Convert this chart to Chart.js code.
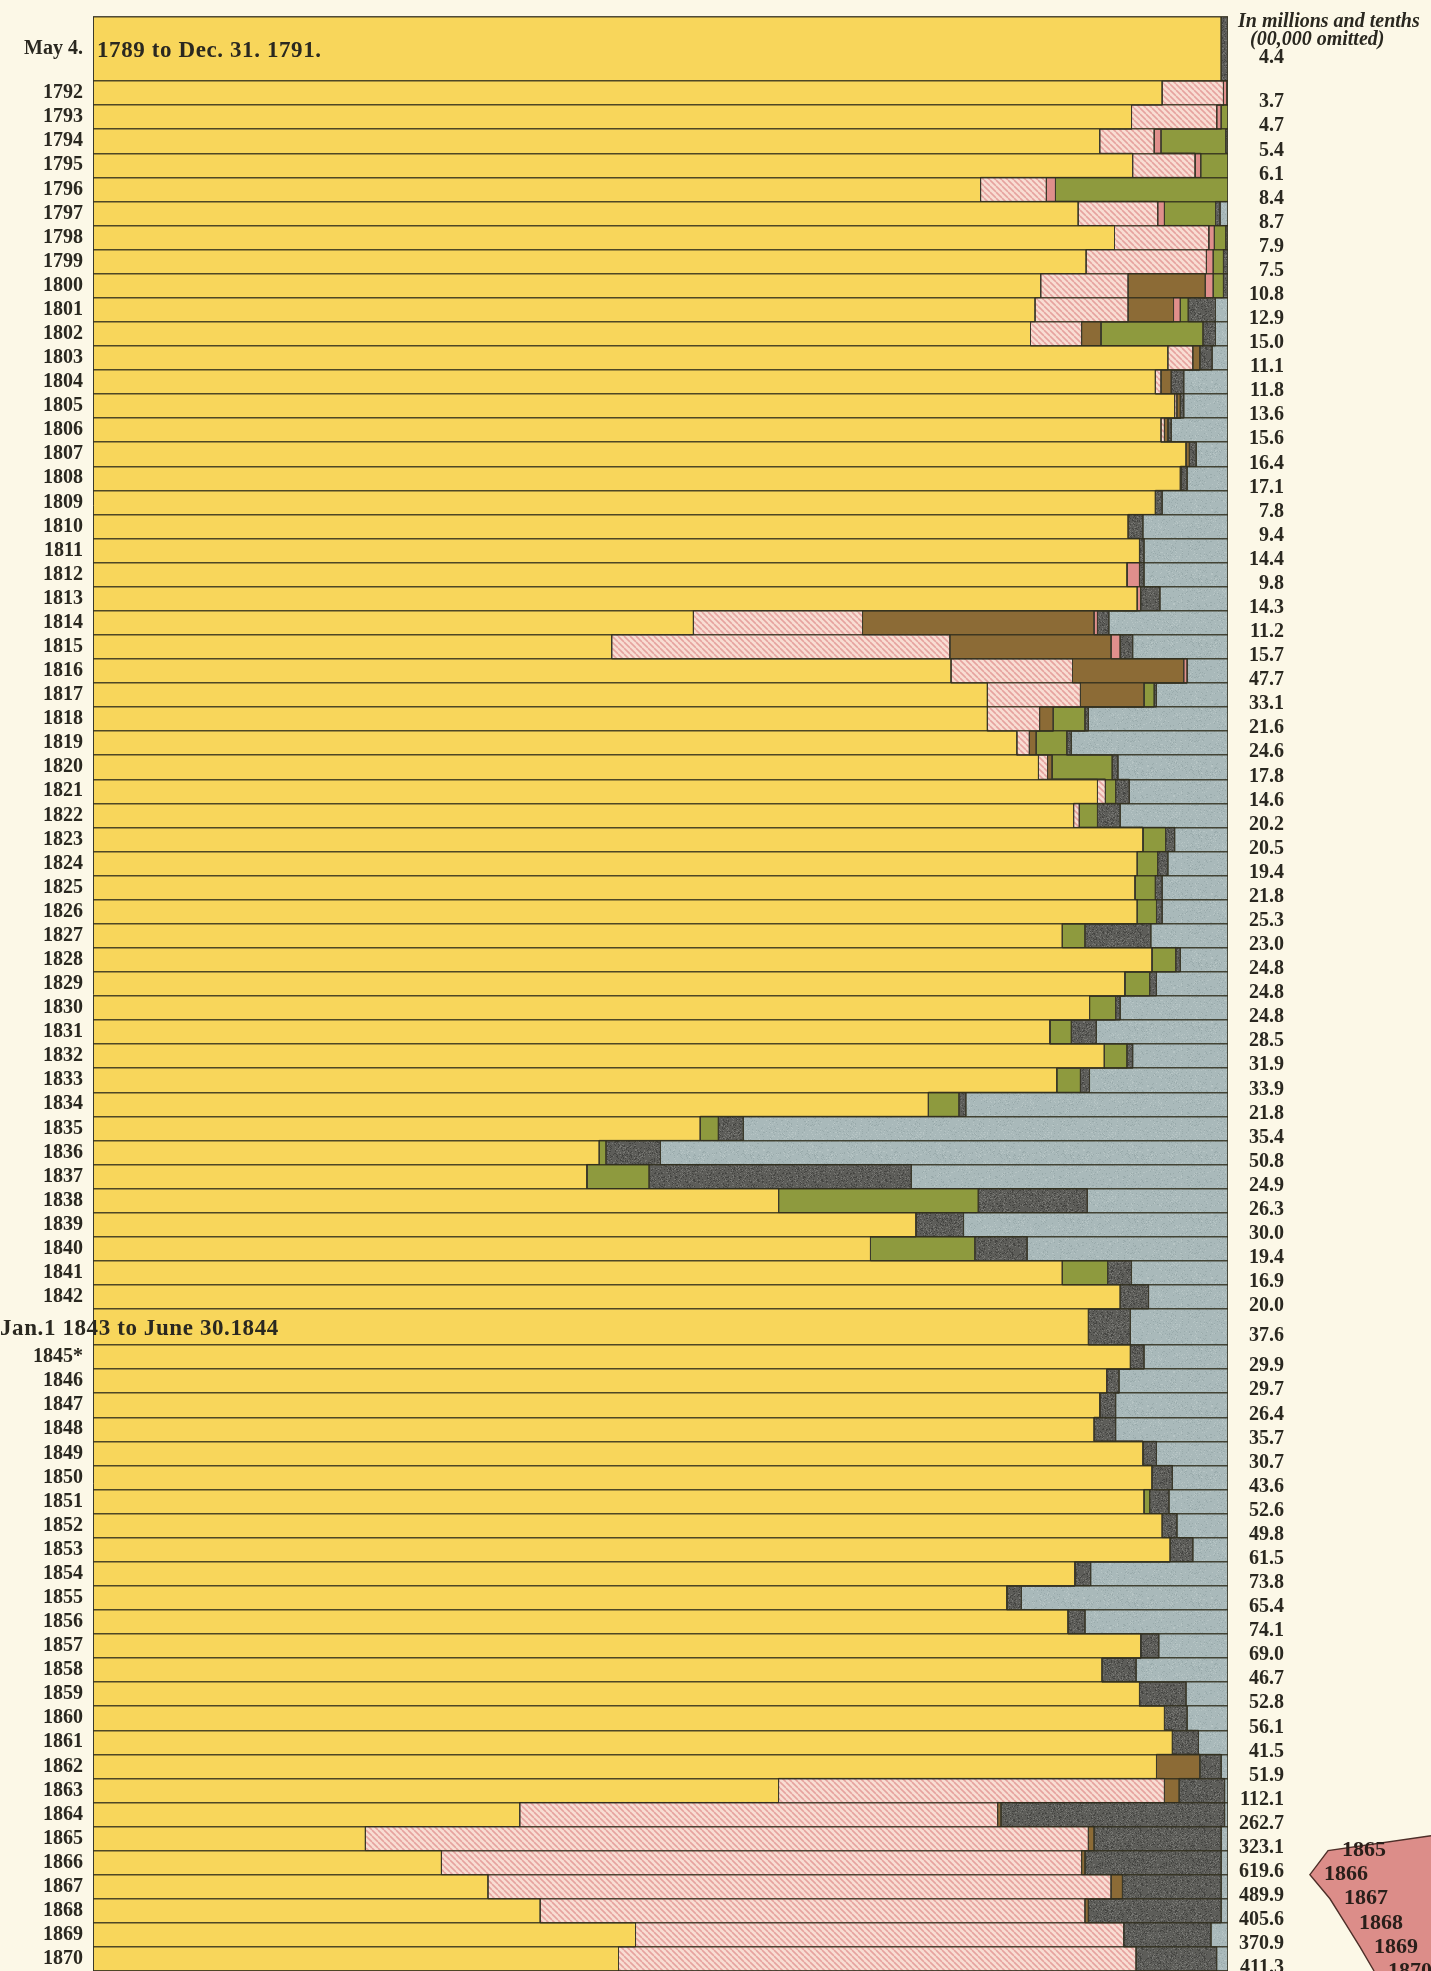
<!DOCTYPE html>
<html>
<head>
<meta charset="utf-8">
<title>Receipts of the Treasury by source, 1789–1870</title>
<script src="https://cdn.jsdelivr.net/npm/chart.js@4.4.1/dist/chart.umd.min.js"></script>
<style>
  html, body { margin: 0; padding: 0; background: #fcf8e7; }
  #wrap { position: relative; width: 1431px; height: 1971px; overflow: hidden; }
  canvas { position: absolute; top: 0; }
  #main { left: 0; }
  #side { left: 1240px; }
</style>
</head>
<body>
<div id="wrap">
  <canvas id="main" width="1431" height="1971"></canvas>
  <canvas id="side" width="191" height="1971"></canvas>
</div>
<script>
// ---- Periods (rows). Row heights follow the length of each period. ----
const periodLabels = [
  'May 4.',
  '1792', '1793', '1794', '1795', '1796', '1797', '1798', '1799', '1800',
  '1801', '1802', '1803', '1804', '1805', '1806', '1807', '1808', '1809', '1810',
  '1811', '1812', '1813', '1814', '1815', '1816', '1817', '1818', '1819', '1820',
  '1821', '1822', '1823', '1824', '1825', '1826', '1827', '1828', '1829', '1830',
  '1831', '1832', '1833', '1834', '1835', '1836', '1837', '1838', '1839', '1840',
  '1841', '1842',
  '',
  '1845*', '1846', '1847', '1848', '1849', '1850',
  '1851', '1852', '1853', '1854', '1855', '1856', '1857', '1858', '1859', '1860',
  '1861', '1862', '1863', '1864', '1865', '1866', '1867', '1868', '1869', '1870'
];

// Period limits on the time axis (fiscal years from 1845 run July–June)
const periodBounds = [
  1789.34,
  1792, 1793, 1794, 1795, 1796, 1797, 1798, 1799, 1800,
  1801, 1802, 1803, 1804, 1805, 1806, 1807, 1808, 1809, 1810,
  1811, 1812, 1813, 1814, 1815, 1816, 1817, 1818, 1819, 1820,
  1821, 1822, 1823, 1824, 1825, 1826, 1827, 1828, 1829, 1830,
  1831, 1832, 1833, 1834, 1835, 1836, 1837, 1838, 1839, 1840,
  1841, 1842, 1843,
  1844.5, 1845.5, 1846.5, 1847.5, 1848.5, 1849.5, 1850.5,
  1851.5, 1852.5, 1853.5, 1854.5, 1855.5, 1856.5, 1857.5, 1858.5, 1859.5, 1860.5,
  1861.5, 1862.5, 1863.5, 1864.5, 1865.5, 1866.5, 1867.5, 1868.5, 1869.5, 1870.5
];

// Notes written across a row
const spanNotes = [
  { row: 0,  text: '1789 to Dec. 31. 1791.', inside: true },
  { row: 52, text: 'Jan.1 1843 to June 30.1844', inside: false }
];

// Total receipts of each period, in millions of dollars
const totals = [
  4.4,
  3.7, 4.7, 5.4, 6.1, 8.4, 8.7, 7.9, 7.5, 10.8,
  12.9, 15.0, 11.1, 11.8, 13.6, 15.6, 16.4, 17.1, 7.8, 9.4,
  14.4, 9.8, 14.3, 11.2, 15.7, 47.7, 33.1, 21.6, 24.6, 17.8,
  14.6, 20.2, 20.5, 19.4, 21.8, 25.3, 23.0, 24.8, 24.8, 24.8,
  28.5, 31.9, 33.9, 21.8, 35.4, 50.8, 24.9, 26.3, 30.0, 19.4,
  16.9, 20.0,
  37.6,
  29.9, 29.7, 26.4, 35.7, 30.7, 43.6,
  52.6, 49.8, 61.5, 73.8, 65.4, 74.1, 69.0, 46.7, 52.8, 56.1,
  41.5, 51.9, 112.1, 262.7, 323.1, 619.6, 489.9, 405.6, 370.9, 411.3
];

// ---- Share of each source in the period's receipts (per cent) ----
const customs = [
  99.4,
  94.2, 91.5, 88.7, 91.6, 78.2, 86.8, 90.0, 87.5, 83.5,
  83.0, 82.6, 94.7, 93.6, 95.3, 94.1, 96.3, 95.8, 93.6, 91.2,
  92.2, 91.1, 92.0, 52.9, 45.7, 75.6, 78.8, 78.8, 81.4, 83.3,
  88.5, 86.4, 92.5, 92.0, 91.8, 92.0, 85.4, 93.3, 90.9, 87.8,
  84.3, 89.1, 84.9, 73.6, 53.5, 44.6, 43.5, 60.4, 72.5, 68.5,
  85.4, 90.5,
  87.7,
  91.4, 89.3, 88.7, 88.2, 92.5, 93.3,
  92.6, 94.2, 94.9, 86.5, 80.5, 85.9, 92.3, 88.9, 92.2, 94.4,
  95.1, 93.7, 60.4, 37.6, 24.0, 30.7, 34.8, 39.4, 47.8, 46.3
];
const internalRevenue = [
  0,
  5.4, 7.5, 4.8, 5.5, 5.8, 7.0, 8.3, 10.6, 7.7,
  8.2, 4.5, 2.2, 0.5, 0.2, 0.3, 0, 0, 0, 0,
  0, 0, 0, 14.9, 29.8, 10.7, 8.2, 4.6, 1.1, 0.8,
  0.7, 0.5, 0, 0, 0, 0, 0, 0, 0, 0,
  0, 0, 0, 0, 0, 0, 0, 0, 0, 0,
  0, 0,
  0,
  0, 0, 0, 0, 0, 0,
  0, 0, 0, 0, 0, 0, 0, 0, 0, 0,
  0, 0, 34.0, 42.1, 63.7, 56.4, 54.9, 48.0, 43.0, 45.6
];
const directTax = [
  0,
  0, 0, 0, 0, 0, 0, 0, 0, 6.8,
  4.0, 1.7, 0.6, 0.9, 0.3, 0.3, 0.3, 0.1, 0, 0,
  0, 0, 0, 20.4, 14.2, 9.8, 5.6, 1.2, 0.6, 0.4,
  0, 0, 0, 0, 0, 0, 0, 0, 0, 0,
  0, 0, 0, 0, 0, 0, 0, 0, 0, 0,
  0, 0,
  0,
  0, 0, 0, 0, 0, 0,
  0, 0, 0, 0, 0, 0, 0, 0, 0, 0,
  0, 3.8, 1.3, 0.3, 0.5, 0.3, 1.0, 0.3, 0, 0
];
const postage = [
  0,
  0.3, 0.4, 0.6, 0.5, 0.8, 0.6, 0.5, 0.6, 0.7,
  0.6, 0, 0, 0, 0, 0, 0, 0, 0, 0,
  0, 1.1, 0.3, 0.3, 0.8, 0.3, 0, 0, 0, 0,
  0, 0, 0, 0, 0, 0, 0, 0, 0, 0,
  0, 0, 0, 0, 0, 0, 0, 0, 0, 0,
  0, 0,
  0,
  0, 0, 0, 0, 0, 0,
  0, 0, 0, 0, 0, 0, 0, 0, 0, 0,
  0, 0, 0, 0, 0, 0, 0, 0, 0, 0
];
const bankStock = [
  0,
  0, 0.6, 5.7, 2.4, 15.2, 4.5, 1.0, 0.9, 0.9,
  0.7, 9.0, 0, 0, 0, 0, 0, 0, 0, 0,
  0, 0, 0, 0, 0, 0, 0.9, 2.8, 2.7, 5.3,
  0.9, 1.6, 2.0, 1.8, 1.8, 1.7, 2.0, 2.1, 2.2, 2.3,
  1.9, 2.0, 2.1, 2.7, 1.6, 0.6, 5.5, 17.6, 0, 9.2,
  4.0, 0,
  0,
  0, 0, 0, 0, 0, 0,
  0.5, 0, 0, 0, 0, 0, 0, 0, 0, 0,
  0, 0, 0, 0, 0, 0, 0, 0, 0, 0
];
const miscellaneous = [
  0.6,
  0.1, 0, 0.2, 0, 0, 0.4, 0.2, 0.4, 0.4,
  2.4, 1.1, 1.1, 1.1, 0.3, 0.3, 0.6, 0.5, 0.6, 1.3,
  0.4, 0.4, 1.7, 1.0, 1.1, 0, 0.2, 0.3, 0.4, 0.5,
  1.2, 2.0, 0.8, 0.9, 0.6, 0.5, 5.8, 0.4, 0.6, 0.4,
  2.2, 0.5, 0.8, 0.6, 2.2, 4.8, 23.1, 9.6, 4.2, 4.6,
  2.1, 2.5,
  3.7,
  1.2, 1.1, 1.4, 1.9, 1.2, 1.8,
  1.7, 1.3, 2.0, 1.4, 1.3, 1.5, 1.6, 3.0, 4.1, 2.0,
  2.3, 1.9, 4.0, 19.7, 11.2, 12.0, 8.7, 11.7, 7.7, 7.1
];
const publicLands = [
  0,
  0, 0, 0, 0, 0, 0.7, 0, 0, 0,
  1.1, 1.1, 1.4, 3.9, 3.9, 5.0, 2.8, 3.6, 5.8, 7.5,
  7.4, 7.4, 6.0, 10.5, 8.4, 3.6, 6.3, 12.3, 13.8, 9.7,
  8.7, 9.5, 4.7, 5.3, 5.8, 5.8, 6.8, 4.2, 6.3, 9.5,
  11.6, 8.4, 12.2, 23.1, 42.7, 50.0, 27.9, 12.4, 23.3, 17.7,
  8.5, 7.0,
  8.6,
  7.4, 9.6, 9.9, 9.9, 6.3, 4.9,
  5.2, 4.5, 3.1, 12.1, 18.2, 12.6, 6.1, 8.1, 3.7, 3.6,
  2.6, 0.6, 0.3, 0.3, 0.6, 0.6, 0.6, 0.6, 1.5, 1.0
];

// Left edge of the neighbouring panel at the close of each fiscal year
const sideYears = [1865, 1866, 1867, 1868, 1869, 1870];
const sideEdge = [46.1, 36.6, 47.1, 55.0, 62.8, 70.2];
const sideTopCorner = { year: 1864.88, edge: 100 };

// ---- Styling helpers ----
const INK = '#2a2820';
const EDGE = '#3c3a2c';
const SERIF = '"Liberation Serif", "Times New Roman", serif';

function hatch(bg, ink) {
  const n = 6;
  const c = document.createElement('canvas');
  c.width = c.height = n;
  const g = c.getContext('2d');
  g.fillStyle = bg;
  g.fillRect(0, 0, n, n);
  g.strokeStyle = ink;
  g.lineWidth = 1.6;
  g.beginPath();
  for (const o of [-n, 0, n]) { g.moveTo(o, 0); g.lineTo(o + n, n); }
  g.stroke();
  return g.createPattern(c, 'repeat');
}

function speckle(base, dark, light, count) {
  const n = 64;
  const c = document.createElement('canvas');
  c.width = c.height = n;
  const g = c.getContext('2d');
  g.fillStyle = base;
  g.fillRect(0, 0, n, n);
  let s = 2463534242;
  const next = () => { s = (Math.imul(s, 1664525) + 1013904223) >>> 0; return s / 4294967296; };
  for (let i = 0; i < count; i++) {
    g.fillStyle = next() < 0.55 ? dark : light;
    g.fillRect(Math.floor(next() * n), Math.floor(next() * n), 1, 1);
  }
  return g.createPattern(c, 'repeat');
}

const sources = [
  { name: 'Customs', values: customs, fill: '#f8d65b' },
  { name: 'Internal revenue', values: internalRevenue, fill: hatch('#f8ddd3', '#e6a39f') },
  { name: 'Direct tax', values: directTax, fill: '#8c6b36' },
  { name: 'Postage', values: postage, fill: '#e08f8c' },
  { name: 'Bank stock', values: bankStock, fill: '#8e9a3e' },
  { name: 'Miscellaneous', values: miscellaneous, fill: speckle('#5d5d59', '#454542', '#767672', 1400) },
  { name: 'Public lands', values: publicLands, fill: speckle('#a9b9ba', '#9aabac', '#b7c5c5', 700) }
];

const N = periodLabels.length;
const centers = periodLabels.map((_, i) => (periodBounds[i] + periodBounds[i + 1]) / 2);
const rowSum = periodLabels.map((_, i) => sources.reduce((s, src) => s + src.values[i], 0));

// Each dataset is the right-hand edge of the running total, filled back to zero;
// the earlier sources are painted over the later ones.
let running = new Array(N).fill(0);
const datasets = sources.map(src => {
  running = running.map((r, i) => r + src.values[i] / rowSum[i] * 100);
  const pts = [];
  running.forEach((x, i) => {
    pts.push({ x, y: periodBounds[i] });
    pts.push({ x, y: periodBounds[i + 1] });
  });
  return {
    label: src.name,
    data: pts,
    xAxisID: 'x',
    yAxisID: 'y',
    fill: 'origin',
    backgroundColor: src.fill,
    borderColor: EDGE,
    borderWidth: 1,
    pointRadius: 0,
    pointHoverRadius: 0,
    tension: 0
  };
});

const yMin = periodBounds[0];
const yMax = periodBounds[periodBounds.length - 1];

const noteText = {
  id: 'noteText',
  afterDraw(chart) {
    const { ctx, chartArea, scales } = chart;
    const y = scales.y;
    ctx.save();
    ctx.fillStyle = INK;
    ctx.textBaseline = 'middle';
    ctx.textAlign = 'left';
    ctx.font = 'bold 23px ' + SERIF;
    ctx.letterSpacing = '0.6px';
    spanNotes.forEach(n => {
      const x = n.inside ? chartArea.left + 4 : 0;
      ctx.fillText(n.text, x, y.getPixelForValue(centers[n.row]) + 2);
    });
    ctx.letterSpacing = '0px';
    ctx.textBaseline = 'alphabetic';
    ctx.font = 'italic bold 20px ' + SERIF;
    ctx.fillText('In millions and tenths', chartArea.right + 10, chartArea.top + 10);
    ctx.fillText('(00,000 omitted)', chartArea.right + 22, chartArea.top + 28);
    ctx.restore();
  }
};

const tickFont = { family: SERIF, size: 20, weight: 'bold' };

const main = new Chart(document.getElementById('main'), {
  type: 'line',
  data: { datasets },
  plugins: [noteText],
  options: {
    responsive: false,
    animation: false,
    devicePixelRatio: 1,
    indexAxis: 'y',
    events: [],
    layout: { padding: { top: 17, right: 147, bottom: 0, left: 0 } },
    plugins: { legend: { display: false }, tooltip: { enabled: false } },
    scales: {
      x: { type: 'linear', min: 0, max: 100, display: false },
      y: {
        type: 'linear', position: 'left', reverse: true, min: yMin, max: yMax, bounds: 'data',
        afterBuildTicks: s => { s.ticks = centers.map(value => ({ value })); },
        afterFit: s => { s.width = 93; s.paddingTop = 0; s.paddingBottom = 0; },
        ticks: {
          autoSkip: false, maxRotation: 0, minRotation: 0, padding: 10, z: 1,
          color: INK, font: tickFont,
          callback: (v, i) => periodLabels[i]
        },
        grid: { display: false, drawTicks: false },
        border: { display: true, color: EDGE, width: 1, z: 1 }
      },
      yTotals: {
        type: 'linear', position: 'right', reverse: true, min: yMin, max: yMax, bounds: 'data',
        afterBuildTicks: s => { s.ticks = centers.map(value => ({ value: value + 0.38 })); },
        afterFit: s => { s.width = 56; s.paddingTop = 0; s.paddingBottom = 0; },
        ticks: {
          autoSkip: false, maxRotation: 0, minRotation: 0, padding: 0, crossAlign: 'far',
          color: INK, font: tickFont,
          callback: (v, i) => totals[i].toFixed(1)
        },
        grid: { display: false, drawTicks: false },
        border: { display: false }
      },
      yRows: {
        type: 'linear', position: 'right', reverse: true, min: yMin, max: yMax, bounds: 'data',
        afterBuildTicks: s => { s.ticks = periodBounds.map(value => ({ value })); },
        afterFit: s => { s.width = 0; s.paddingTop = 0; s.paddingBottom = 0; },
        ticks: { display: false },
        grid: { color: 'rgba(48,46,28,0.85)', lineWidth: 1.4, drawTicks: false, z: 1 },
        border: { display: false }
      }
    }
  }
});

// ---- Neighbouring panel, of which only the left edge shows ----
const sidePoints = [{ x: sideTopCorner.edge, y: sideTopCorner.year }]
  .concat(sideYears.map((yr, k) => ({ x: sideEdge[k], y: yr + 0.5 })));
const sideSets = [{
  data: sidePoints, fill: { value: 100 }, backgroundColor: '#dc8d89',
  borderColor: '#4e2f29', borderWidth: 1.4, pointRadius: 0, tension: 0
}].concat(sideYears.map((yr, k) => ({
  data: [{ x: sideEdge[k], y: yr + 0.5 }, { x: 100, y: yr + 0.5 }],
  fill: false, borderColor: '#3a2a24', borderWidth: 1.3, pointRadius: 0, tension: 0
})));

const sideLabels = {
  id: 'sideLabels',
  afterDatasetsDraw(chart) {
    const { ctx, scales: { x, y } } = chart;
    ctx.save();
    ctx.fillStyle = '#2a1f1a';
    ctx.font = 'bold 22px ' + SERIF;
    ctx.textBaseline = 'middle';
    ctx.textAlign = 'left';
    sideYears.forEach((yr, k) => {
      ctx.fillText(String(yr), x.getPixelForValue(sideEdge[k]) + 14, y.getPixelForValue(yr + 0.5));
    });
    ctx.restore();
  }
};

new Chart(document.getElementById('side'), {
  type: 'line',
  data: { datasets: sideSets },
  plugins: [sideLabels],
  options: {
    responsive: false,
    animation: false,
    devicePixelRatio: 1,
    indexAxis: 'y',
    events: [],
    layout: { padding: { top: 17, right: 0, bottom: 0, left: 0 } },
    plugins: { legend: { display: false }, tooltip: { enabled: false } },
    scales: {
      x: { type: 'linear', min: 0, max: 100, display: false },
      y: { type: 'linear', reverse: true, min: yMin, max: yMax, display: false }
    }
  }
});
</script>
</body>
</html>
